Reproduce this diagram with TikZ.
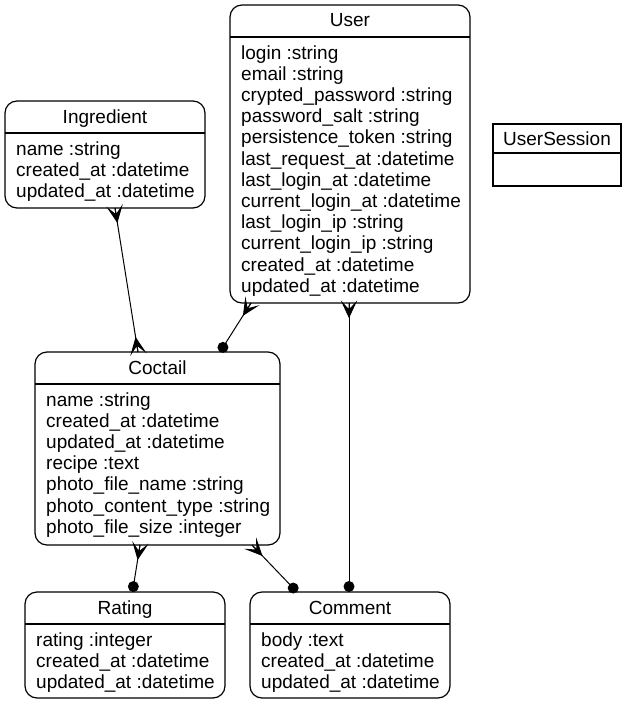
\documentclass[tikz,border=0pt]{standalone}
\usepackage{fontspec}
\setmainfont{Liberation Sans}
\usetikzlibrary{calc}
\tikzset{
 ent/.style={draw, rounded corners=12pt, line width=1.2pt, inner sep=0pt, outer sep=0pt, anchor=north west},
 plainent/.style={draw, line width=1.2pt, inner sep=0pt, outer sep=0pt, anchor=north west},
 lbl/.style={inner sep=0pt, anchor=base, font=\fontsize{19}{21}\selectfont},
 attr/.style={inner sep=0pt, anchor=base west, font=\fontsize{19}{21}\selectfont},
 rel/.style={line width=1pt},
 divider/.style={line width=1.2pt},
}
\newcommand{\mkent}[7]{%
 \node[ent, minimum width={#4-#2}, minimum height={#5-#3}] (#1) at (#2,#3) {};
 \draw[divider] ($(#1.north west)+(0,32)$) -- ($(#1.north east)+(0,32)$);
 \node[lbl] (#1-title) at ($(#1.north)+(0,22)$) {#6};
 \foreach \t [count=\i] in {#7} {\node[attr] (#1-a\i) at ($(#1.north west)+(11,{54+21.2*(\i-1)})$) {\t};}
}
\newcommand{\crowend}[2]{%
 \filldraw[line width=1pt, line join=miter] ($(#1)!14pt!(#2)$) -- ($(#1)!6.5pt!90:(#2)$) -- ($(#1)!7pt!(#2)$) -- (#1) -- ($(#1)!7pt!(#2)$) -- ($(#1)!6.5pt!-90:(#2)$) -- cycle;}
\newcommand{\dotend}[2]{%
 \fill ($(#1)!5.5pt!(#2)$) circle (5.5pt);}
\begin{document}
\begin{tikzpicture}[x=1pt,y=-1pt]
\useasboundingbox (0,0) rectangle (629,704);
\fill[white] (0,0) rectangle (629,704);

\mkent{ing}{5}{101}{205}{208}{Ingredient}{name :string, created\_at :datetime, updated\_at :datetime}
\mkent{user}{230}{5}{470}{303}{User}{login :string, email :string, crypted\_password :string, password\_salt :string, persistence\_token :string, last\_request\_at :datetime, last\_login\_at :datetime, current\_login\_at :datetime, last\_login\_ip :string, current\_login\_ip :string, created\_at :datetime, updated\_at :datetime}
\mkent{coc}{35}{352}{280}{545}{Coctail}{name :string, created\_at :datetime, updated\_at :datetime, recipe :text, photo\_file\_name :string, photo\_content\_type :string, photo\_file\_size :integer}
\mkent{rat}{25}{592}{225}{698}{Rating}{rating :integer, created\_at :datetime, updated\_at :datetime}
\mkent{com}{250}{592}{450}{698}{Comment}{body :text, created\_at :datetime, updated\_at :datetime}

\node[plainent, minimum width=128, minimum height=62] (us) at (493,124) {};
\draw[divider] ($(us.north west)+(0,29)$) -- ($(us.north east)+(0,29)$);
\node[lbl] (us-title) at ($(us.north)+(0,21)$) {UserSession};

% connector end points on the entity borders
\coordinate (ing-s) at (115,208);
\coordinate (coc-n1) at (138,352);
\coordinate (user-s1) at (251,303);
\coordinate (coc-n2) at (220,352);
\coordinate (user-s2) at (349,303);
\coordinate (com-n1) at (349,592);
\coordinate (coc-s1) at (140,545);
\coordinate (rat-n) at (132.5,592);
\coordinate (coc-s2) at (252,545);
\coordinate (com-n2) at (297,592);

\draw[rel] (ing-s) -- (coc-n1);
\crowend{ing-s}{coc-n1}
\crowend{coc-n1}{ing-s}

\draw[rel] (user-s1) -- (coc-n2);
\crowend{user-s1}{coc-n2}
\dotend{coc-n2}{user-s1}

\draw[rel] (user-s2) -- (com-n1);
\crowend{user-s2}{com-n1}
\dotend{com-n1}{user-s2}

\draw[rel] (coc-s1) -- (rat-n);
\crowend{coc-s1}{rat-n}
\dotend{rat-n}{coc-s1}

\draw[rel] (coc-s2) -- (com-n2);
\crowend{coc-s2}{com-n2}
\dotend{com-n2}{coc-s2}
\end{tikzpicture}
\end{document}
